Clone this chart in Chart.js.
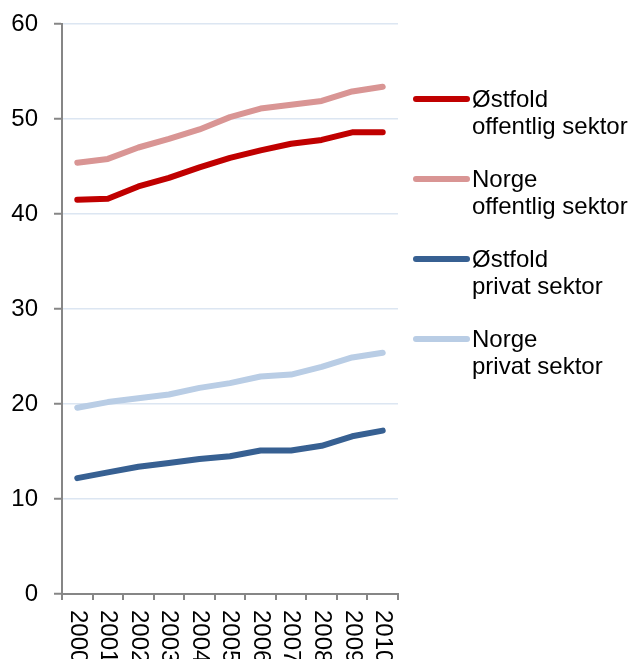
<!DOCTYPE html>
<html>
<head>
<meta charset="utf-8">
<script src="https://cdn.jsdelivr.net/npm/chart.js@4/dist/chart.umd.min.js"></script>
<style>
    html, body { margin: 0; padding: 0; background: #fff; }
    #wrap { width: 631px; height: 659px; }
</style>
</head>
<body>
<div id="wrap"><canvas id="graf"></canvas></div>
<script>
// Data lest av fra figuren
const aar = ['2000', '2001', '2002', '2003', '2004', '2005', '2006', '2007', '2008', '2009', '2010'];
const ostfoldOffentlig = [41.5, 41.6, 42.9, 43.8, 44.9, 45.9, 46.7, 47.4, 47.8, 48.6, 48.6];
const norgeOffentlig = [45.4, 45.8, 47.0, 47.9, 48.9, 50.2, 51.1, 51.5, 51.9, 52.9, 53.4];
const ostfoldPrivat = [12.2, 12.8, 13.4, 13.8, 14.2, 14.5, 15.1, 15.1, 15.6, 16.6, 17.2];
const norgePrivat = [19.6, 20.2, 20.6, 21.0, 21.7, 22.2, 22.9, 23.1, 23.9, 24.9, 25.4];
const serieNavn = [
    ['Østfold', 'offentlig sektor'],
    ['Norge', 'offentlig sektor'],
    ['Østfold', 'privat sektor'],
    ['Norge', 'privat sektor']
];
const farger = ['#c00000', '#d99594', '#376092', '#b9cde5'];

const FONT = '"Liberation Sans", Arial, sans-serif';

function lagSerie(navn, data, farge) {
    return {
        label: navn,
        data: data,
        borderColor: farge,
        backgroundColor: farge,
        borderWidth: 6,
        borderCapStyle: 'round',
        borderJoinStyle: 'round',
        pointRadius: 0,
        tension: 0,
        fill: false
    };
}

// Årstall skrevet ovenfra og ned under x-aksen
const aarEtiketter = {
    id: 'aarEtiketter',
    afterDraw(chart) {
        const ctx = chart.ctx;
        const xSkala = chart.scales.x;
        ctx.save();
        ctx.fillStyle = '#000';
        ctx.font = '24px ' + FONT;
        ctx.textAlign = 'left';
        ctx.textBaseline = 'middle';
        aar.forEach((a, i) => {
            const x = xSkala.getPixelForTick(i);
            ctx.save();
            ctx.translate(x, xSkala.top + 16);
            ctx.rotate(Math.PI / 2);
            ctx.fillText(a, 0, 0);
            ctx.restore();
        });
        ctx.restore();
    }
};

// Forklaring til høyre med to linjer tekst per serie
const forklaring = {
    id: 'forklaring',
    afterDraw(chart) {
        const ctx = chart.ctx;
        ctx.save();
        ctx.font = '24px ' + FONT;
        ctx.textBaseline = 'middle';
        ctx.textAlign = 'left';
        chart.data.datasets.forEach((ds, i) => {
            const y = 99 + i * 80;
            ctx.strokeStyle = ds.borderColor;
            ctx.lineWidth = 6;
            ctx.lineCap = 'round';
            ctx.beginPath();
            ctx.moveTo(416, y);
            ctx.lineTo(467, y);
            ctx.stroke();
            ctx.fillStyle = '#000';
            ds.label.forEach((linje, j) => {
                ctx.fillText(linje, 472, y + 1 + j * 27);
            });
        });
        ctx.restore();
    }
};

new Chart(document.getElementById('graf'), {
    type: 'line',
    data: {
        labels: aar,
        datasets: [
            lagSerie(serieNavn[0], ostfoldOffentlig, farger[0]),
            lagSerie(serieNavn[1], norgeOffentlig, farger[1]),
            lagSerie(serieNavn[2], ostfoldPrivat, farger[2]),
            lagSerie(serieNavn[3], norgePrivat, farger[3])
        ]
    },
    options: {
        responsive: true,
        maintainAspectRatio: false,
        animation: false,
        layout: {
            padding: { left: 10, right: 233, top: 24, bottom: 59 }
        },
        plugins: {
            legend: { display: false },
            tooltip: { enabled: false }
        },
        scales: {
            x: {
                offset: true,
                border: { color: '#868686', width: 2 },
                grid: {
                    offset: true,
                    drawOnChartArea: false,
                    color: '#868686',
                    lineWidth: 2,
                    tickLength: 6
                },
                ticks: { display: false }
            },
            y: {
                min: 0,
                max: 60,
                afterFit(skala) {
                    skala.width = 52;
                    skala.paddingTop = 0;
                    skala.paddingBottom = 0;
                },
                border: { color: '#868686', width: 2 },
                grid: {
                    color: '#dce6f2',
                    lineWidth: 1.5,
                    tickColor: '#868686',
                    tickWidth: 2,
                    tickLength: 8
                },
                ticks: {
                    stepSize: 10,
                    padding: 16,
                    color: '#000',
                    font: { family: FONT, size: 24 }
                }
            }
        }
    },
    plugins: [aarEtiketter, forklaring]
});
</script>
</body>
</html>
